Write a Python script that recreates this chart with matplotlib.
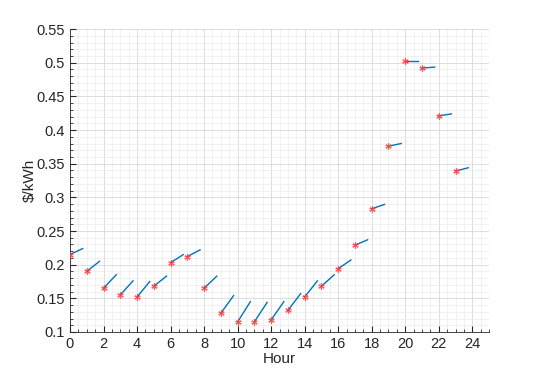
import matplotlib
matplotlib.use("Agg")
import matplotlib.pyplot as plt
from matplotlib.ticker import MultipleLocator
import numpy as np

hours = list(range(24))
price = [0.215, 0.190, 0.165, 0.155, 0.152, 0.168, 0.203, 0.212, 0.165, 0.128,
         0.115, 0.115, 0.118, 0.132, 0.152, 0.168, 0.194, 0.229, 0.283, 0.376,
         0.502, 0.492, 0.421, 0.339]
# rise of each short segment over its horizontal extent
rise = [0.009, 0.015, 0.020, 0.021, 0.023, 0.015, 0.012, 0.010, 0.018, 0.026,
        0.030, 0.029, 0.027, 0.025, 0.024, 0.017, 0.013, 0.008, 0.0065, 0.004,
        0.0, 0.0015, 0.003, 0.005]
seg_dx = 0.76

plt.rcParams['font.family'] = ['Liberation Sans', 'DejaVu Sans']
fig = plt.figure(figsize=(5.4, 3.74), dpi=100)
ax = fig.add_axes([0.1296, 0.1123, 0.776, 0.810])

for h, p, r in zip(hours, price, rise):
    ax.plot([h, h + seg_dx], [p, p + r], color='#0072BD', lw=1.0, zorder=2)
ax.plot(hours, price, linestyle='none', marker=(6, 2, 0), markersize=4.5,
        markeredgewidth=0.9, color='#FF3A3A', alpha=0.8, zorder=3)

ax.set_xlim(0, 25)
ax.set_ylim(0.1, 0.55)
ax.xaxis.set_major_locator(MultipleLocator(2))
ax.xaxis.set_minor_locator(MultipleLocator(0.5))
ax.yaxis.set_minor_locator(MultipleLocator(0.01))
ax.set_yticks(np.arange(0.1, 0.5501, 0.05))
ax.set_yticklabels(['0.1', '0.15', '0.2', '0.25', '0.3', '0.35', '0.4', '0.45', '0.5', '0.55'])

ax.grid(True, which='major', color='#d8d8d8', lw=0.6)
ax.grid(True, which='minor', color='#ececec', lw=0.5)
ax.set_axisbelow(True)
for s in ['top', 'right']:
    ax.spines[s].set_visible(False)
for s in ['left', 'bottom']:
    ax.spines[s].set_color('#262626')
    ax.spines[s].set_linewidth(0.6)
ax.tick_params(which='both', direction='in', colors='#262626', labelsize=10.5)
ax.tick_params(which='major', length=4)
ax.tick_params(which='minor', length=2)

ax.set_xlabel('Hour', fontsize=11, color='#262626', labelpad=1)
ax.set_ylabel(r'\$/kWh', fontsize=11, color='#262626', labelpad=0)

fig.savefig('out.png', dpi=100)
